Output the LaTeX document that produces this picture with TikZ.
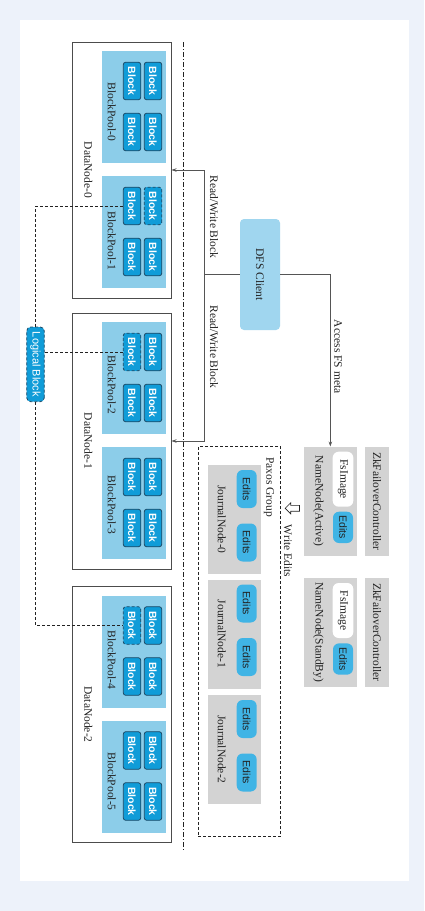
\documentclass[tikz,border=0pt]{standalone}
\usepackage{fontspec}
\setmainfont{Liberation Serif}
\setsansfont{Liberation Sans}
\usetikzlibrary{arrows.meta,shapes.arrows}
\definecolor{bgblue}{HTML}{EDF2FA}
\definecolor{blkfill}{HTML}{109CD8}
\definecolor{blkline}{HTML}{1D4A66}
\definecolor{poolfill}{HTML}{8CCDE9}
\definecolor{dfsfill}{HTML}{A0D6EF}
\definecolor{editfill}{HTML}{40B4E5}
\definecolor{graybox}{HTML}{D3D3D3}
\definecolor{txt}{HTML}{222222}
\definecolor{lines}{HTML}{555555}

\begin{document}
\begin{tikzpicture}[x=1pt,y=-1pt,
	every node/.style={inner sep=0pt,text=txt,font=\fontsize{11.5}{12}\selectfont},
	dnbox/.style={draw=lines!90!black,line width=1pt,minimum width=98.3pt,minimum height=256pt},
	pool/.style={fill=poolfill,minimum width=64pt,minimum height=112pt},
	blk/.style={draw=blkline,line width=0.8pt,fill=blkfill,rounded corners=2.5pt,rotate=-90,minimum width=37.6pt,minimum height=17.5pt,text=white,font=\sffamily\bfseries\fontsize{10.5}{11}\selectfont},
	dblk/.style={blk,densely dashed},
	lbl/.style={rotate=-90},
	gbox/.style={fill=graybox},
	edit/.style={fill=editfill,rounded corners=6pt,rotate=-90,minimum height=20pt,font=\sffamily\fontsize{10.5}{11}\selectfont},
	conn/.style={draw=lines,line width=0.8pt},
	tip/.style={-{Stealth[length=5pt,width=3.5pt]}},
	lline/.style={draw=txt,line width=0.7pt,densely dashed}]
	\fill[bgblue] (0,0) rectangle (424,911);
	\fill[white] (20,20) rectangle (409,881);
			 \node[dnbox] (dn0)at(121.85,170) {};
			 \node[dnbox] (dn1)at(121.85,441) {};
			 \node[dnbox] (dn2)at(121.85,714.5) {};
			 \node[lbl] (dn0l)at(88.3,170) {DataNode-0};
			 \node[lbl] (dn1l)at(88.3,441) {DataNode-1};
			 \node[lbl] (dn2l)at(88.3,714.5) {DataNode-2};
			 \node[pool] (bp0)at(134,107) {};
			 \node[pool] (bp1)at(134,232) {};
			 \node[pool] (bp2)at(134,378) {};
			 \node[pool] (bp3)at(134,503) {};
			 \node[pool] (bp4)at(134,651.5) {};
			 \node[pool] (bp5)at(134,776.5) {};
			 \node[lbl] (bp0l)at(111.7,111.7) {BlockPool-0};
			 \node[lbl] (bp1l)at(111.7,240.8) {BlockPool-1};
			 \node[lbl] (bp2l)at(111.7,385) {BlockPool-2};
			 \node[lbl] (bp3l)at(111.7,505) {BlockPool-3};
			 \node[lbl] (bp4l)at(111.7,660) {BlockPool-4};
			 \node[lbl] (bp5l)at(111.7,781.5) {BlockPool-5};
			 \node[blk] (b0a)at(132,81) {Block};
			 \node[blk] (b0b)at(153,81) {Block};
			 \node[blk] (b0c)at(132,132) {Block};
			 \node[blk] (b0d)at(153,132) {Block};
			 \node[blk] (b1a)at(132,206) {Block};
			 \node[dblk] (b1b)at(153,206) {Block};
			 \node[blk] (b1c)at(132,257) {Block};
			 \node[blk] (b1d)at(153,257) {Block};
			 \node[dblk] (b2a)at(132,352) {Block};
			 \node[blk] (b2b)at(153,352) {Block};
			 \node[blk] (b2c)at(132,403) {Block};
			 \node[blk] (b2d)at(153,403) {Block};
			 \node[blk] (b3a)at(132,477) {Block};
			 \node[blk] (b3b)at(153,477) {Block};
			 \node[blk] (b3c)at(132,528) {Block};
			 \node[blk] (b3d)at(153,528) {Block};
			 \node[dblk] (b4a)at(132,625.5) {Block};
			 \node[blk] (b4b)at(153,625.5) {Block};
			 \node[blk] (b4c)at(132,676.5) {Block};
			 \node[blk] (b4d)at(153,676.5) {Block};
			 \node[blk] (b5a)at(132,750.5) {Block};
			 \node[blk] (b5b)at(153,750.5) {Block};
			 \node[blk] (b5c)at(132,801.5) {Block};
			 \node[blk] (b5d)at(153,801.5) {Block};
			 \coordinate (sep1)at(183.3,42);
			 \coordinate (sep2)at(183.3,850);
			 \draw[txt,line width=0.7pt,dash pattern=on 5pt off 2pt on 1pt off 2pt] (sep1) -- (sep2);
			 \node[lbl,fill=dfsfill,rounded corners=4pt,minimum width=111pt,minimum height=40pt] (dfs)at(260,274.5) {DFS Client};
			 \coordinate (rw)at(204,274.5);
			 \draw[conn] (dfs) -- (rw);
			 \draw[conn,tip] (rw) |- (dn0);
			 \draw[conn,tip] (rw) |- (dn1);
			 \node[lbl] (rw0l)at(214,217) {Read/Write Block};
			 \node[lbl] (rw1l)at(214,347) {Read/Write Block};
			 \node[gbox,minimum width=52.7pt,minimum height=109pt] (nna)at(330.35,501.2) {};
			 \node[gbox,minimum width=52.7pt,minimum height=108.7pt] (nns)at(330.35,632.35) {};
			 \draw[conn,tip] (dfs) -| (nna);
			 \node[lbl] (fsl)at(338,356.7) {Access FS meta};
			 \node[lbl,fill=white,rounded corners=6pt,minimum width=55pt,minimum height=20.6pt] (fsa)at(343,479.2) {FsImage};
			 \node[lbl,fill=white,rounded corners=6pt,minimum width=55pt,minimum height=20.6pt] (fss)at(343,610.5) {FsImage};
			 \node[edit,minimum width=31.3pt] (eda)at(343,527.35) {Edits};
			 \node[edit,minimum width=31.3pt] (eds)at(343,659) {Edits};
			 \node[lbl] (nnal)at(318.3,501.2) {NameNode(Active)};
			 \node[lbl] (nnsl)at(318.3,632.35) {NameNode(StandBy)};
			 \node[gbox,lbl,minimum width=109pt,minimum height=24pt] (zka)at(377,501.2) {ZkFailoverController};
			 \node[gbox,lbl,minimum width=108.7pt,minimum height=24pt] (zks)at(377,632.35) {ZkFailoverController};
			 \node[draw=txt,line width=0.7pt,densely dashed,minimum width=82.4pt,minimum height=390pt] (paxos)at(239.5,641.7) {};
			 \node[lbl] (paxosl)at(269,487) {Paxos Group};
			 \node[gbox,minimum width=52.4pt,minimum height=109pt] (jn0)at(234.5,519.5) {};
			 \node[gbox,minimum width=52.4pt,minimum height=109pt] (jn1)at(234.5,634) {};
			 \node[gbox,minimum width=52.4pt,minimum height=109pt] (jn2)at(234.5,749.5) {};
			 \node[lbl] (jn0l)at(221.7,519.5) {JournalNode-0};
			 \node[lbl] (jn1l)at(221.7,634) {JournalNode-1};
			 \node[lbl] (jn2l)at(221.7,749.5) {JournalNode-2};
			 \node[edit,minimum width=38pt] (e0a)at(246.7,489) {Edits};
			 \node[edit,minimum width=38pt] (e0b)at(246.7,542.5) {Edits};
			 \node[edit,minimum width=38pt] (e1a)at(246.7,603.5) {Edits};
			 \node[edit,minimum width=38pt] (e1b)at(246.7,657) {Edits};
			 \node[edit,minimum width=38pt] (e2a)at(246.7,719) {Edits};
			 \node[edit,minimum width=38pt] (e2b)at(246.7,772.5) {Edits};
			 \node[draw=txt,line width=0.7pt,fill=white,single arrow,shape border rotate=180,minimum height=14.3pt,minimum width=11pt,single arrow head extend=2.5pt,inner sep=2.5pt] (wr)at(293.8,508.3) {};
			 \node[lbl] (wrl)at(288,551) {Write Edits};
			 \node[lbl,fill=blkfill,draw=blkline,line width=0.8pt,densely dashed,rounded corners=4pt,minimum width=74.7pt,minimum height=17.6pt,text=white,font=\sffamily\fontsize{11}{12}\selectfont] (lb)at(35.5,364.35) {Logical Block};
			 \draw[lline] (lb) |- (b1a);
			 \draw[lline] (b2a) -- (b2a -| lb.north);
			 \draw[lline] (lb) |- (b4a);
		\end{tikzpicture}
\end{document}
